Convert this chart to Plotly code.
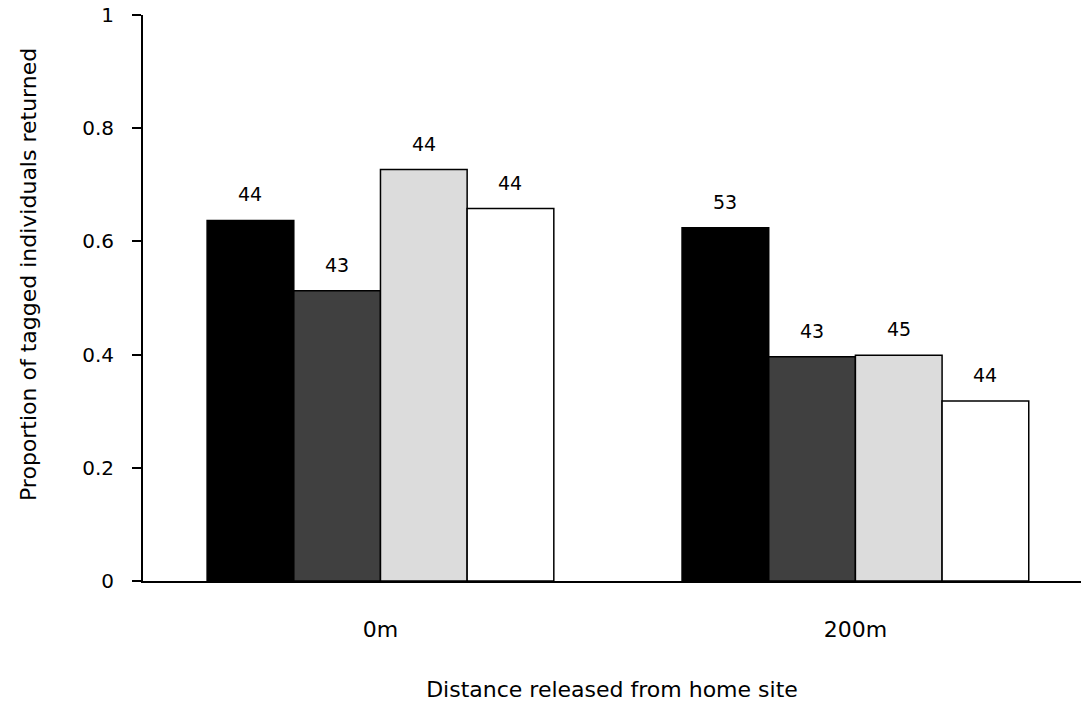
import plotly.graph_objects as go

# Release distance categories and the four treatment groups
distances = ["0m", "200m"]
group_names = ["Group 1", "Group 2", "Group 3", "Group 4"]
group_colors = ["#000000", "#404040", "#dcdcdc", "#ffffff"]

# Proportion of tagged individuals returned, per group, at each distance
proportions = [
    [0.637, 0.624],
    [0.513, 0.396],
    [0.727, 0.399],
    [0.658, 0.318],
]
# Number of tagged individuals (printed above each bar)
sample_sizes = [
    [44, 53],
    [43, 43],
    [44, 45],
    [44, 44],
]

FONT = "DejaVu Sans"
BARGAP = 0.27

fig = go.Figure()
for name, color, vals in zip(group_names, group_colors, proportions):
    fig.add_trace(go.Bar(
        name=name,
        x=distances,
        y=vals,
        marker=dict(color=color, line=dict(color="#000000", width=1.5)),
    ))

# Sample-size labels above each bar, placed at the grouped bar centres
n_groups = len(group_names)
bar_w = (1 - BARGAP) / n_groups
for g, (vals, ns) in enumerate(zip(proportions, sample_sizes)):
    offset = (g - (n_groups - 1) / 2) * bar_w
    for c, (v, n) in enumerate(zip(vals, ns)):
        fig.add_annotation(
            x=c + offset, y=v, xref="x", yref="y",
            text=str(n), showarrow=False,
            xanchor="center", yanchor="bottom", yshift=13,
            font=dict(family=FONT, size=19, color="#000000"),
        )

# Vertical axis title
fig.add_annotation(
    text="Proportion of tagged individuals returned",
    xref="paper", yref="paper", x=0, y=0.5406,
    xanchor="center", yanchor="middle", xshift=-115,
    textangle=-90, showarrow=False,
    font=dict(family=FONT, size=22, color="#000000"),
)

fig.update_layout(
    width=1081,
    height=702,
    margin=dict(l=143, r=0, t=15, b=121),
    paper_bgcolor="white",
    plot_bgcolor="white",
    barmode="group",
    bargap=BARGAP,
    bargroupgap=0,
    showlegend=False,
    font=dict(family=FONT, size=20, color="#000000"),
)

fig.update_xaxes(
    type="category",
    range=[-0.5, 1.475],
    showline=True,
    linecolor="#000000",
    linewidth=2,
    ticks="",
    showgrid=False,
    zeroline=False,
    ticklabelstandoff=28,
    tickfont=dict(family=FONT, size=22, color="#000000"),
    title=dict(text="Distance released from home site",
               font=dict(family=FONT, size=22, color="#000000"),
               standoff=40),
)

fig.update_yaxes(
    range=[0, 1],
    dtick=0.2,
    showline=True,
    linecolor="#000000",
    linewidth=2,
    ticks="outside",
    ticklen=9,
    tickwidth=2,
    tickcolor="#000000",
    showgrid=False,
    zeroline=False,
    ticklabelstandoff=14,
    tickfont=dict(family=FONT, size=20, color="#000000"),
)

fig.write_html("out.html")
